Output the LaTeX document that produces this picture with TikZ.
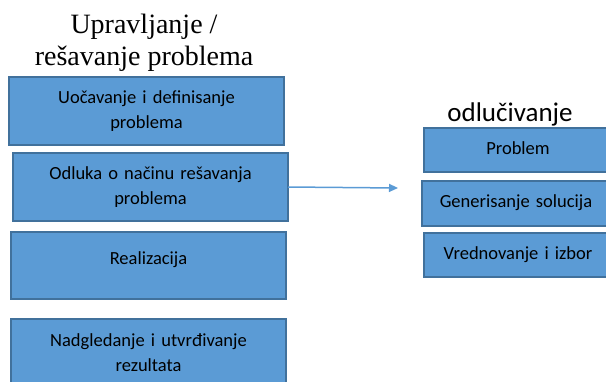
\documentclass[tikz,border=0pt]{standalone}
\usepackage{fontspec}
\setmainfont{Carlito}
\newfontfamily\headserif{Liberation Serif}
\usetikzlibrary{arrows.meta}

\definecolor{boxfill}{HTML}{5B9BD5}
\definecolor{boxline}{HTML}{41719C}

\tikzset{
  stepbox/.style={draw=boxline, fill=boxfill, line width=1.2pt,
    inner sep=0pt, outer sep=0pt, anchor=north west, align=center,
    font=\fontsize{18.5}{25}\selectfont},
  leftbox/.style={stepbox, minimum width=275pt, minimum height=68pt, text width=268pt},
  rightbox/.style={stepbox, minimum width=188pt, minimum height=44pt, text width=184pt, text depth=4pt},
  flow/.style={draw=boxfill, line width=1.5pt, -{Triangle[length=9pt,width=8pt]}},
  heading/.style={inner sep=0pt, align=center}
}

\begin{document}
\begin{tikzpicture}[x=1pt, y=-1pt]
  \clip (0,0) rectangle (606,381);

  % heading of the left column
  \node[heading, font=\headserif\fontsize{28}{32}\selectfont, anchor=base]
    (lefthead) at (144,65) {Upravljanje /\\re\v{s}avanje problema};

  % left column: managing / solving a problem
  \node[leftbox] (b1) at (9,77) {Uo\v{c}avanje i definisanje\\problema};
  \node[leftbox] (b2) at (13,153) {Odluka o na\v{c}inu re\v{s}avanja\\problema};
  \node[leftbox, minimum height=67pt, text depth=14pt] (b3) at (11,232) {Realizacija};
  \node[leftbox] (b4) at (11,319) {Nadgledanje i utvr\dj ivanje\\rezultata};

  % heading of the right column
  \node[heading, font=\fontsize{27}{30}\selectfont, anchor=base]
    (righthead) at (510,121) {odlu\v{c}ivanje};

  % right column: decision making
  \node[rightbox] (r1) at (424,128) {Problem};
  \node[rightbox, minimum height=45pt] (r2) at (422,181) {Generisanje solucija};
  \node[rightbox] (r3) at (424,233) {Vrednovanje i izbor};

  % link from the decision step to decision making
  \coordinate (tip) at (398,188);
  \draw[flow] (b2.east |- 0,187) -- (tip);
\end{tikzpicture}
\end{document}
